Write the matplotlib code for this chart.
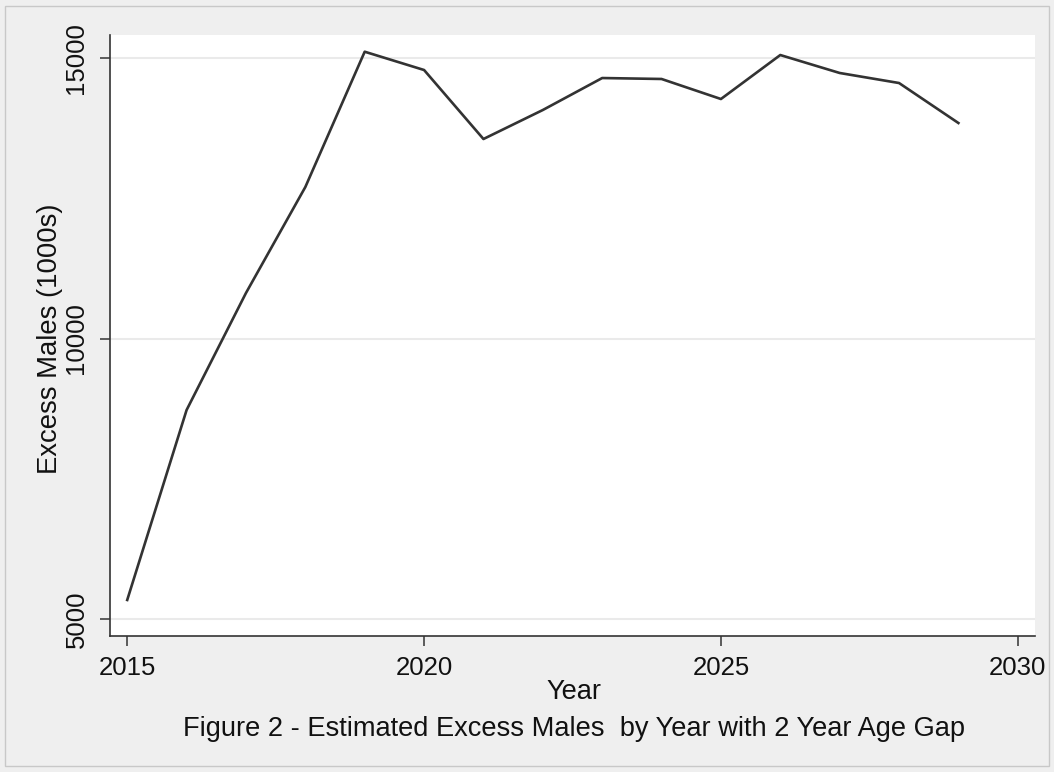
import matplotlib.pyplot as plt
from matplotlib.patches import Rectangle

# data
years = [2015, 2016, 2017, 2018, 2019, 2020, 2021, 2022, 2023, 2024, 2025, 2026, 2027, 2028, 2029]
excess_males = [5339, 8725, 10811, 12700, 15112, 14786, 13556, 14073, 14643, 14626, 14269, 15053, 14733, 14554, 13841]
x_ticks = [2015, 2020, 2025, 2030]
y_ticks = [5000, 10000, 15000]

plt.rcParams['font.family'] = ['Liberation Sans', 'DejaVu Sans']

fig = plt.figure(figsize=(10.54, 7.72), dpi=100)
fig.patch.set_facecolor('#efefef')
fig.patches.append(Rectangle((5 / 1054, 6 / 772), 1044 / 1054, 760 / 772,
                             transform=fig.transFigure, fill=False,
                             edgecolor='#c8c8c8', linewidth=1))

ax = fig.add_axes([110 / 1054, 1 - 636 / 772, 925 / 1054, 601 / 772])
ax.set_facecolor('white')

# grid lines
for v in y_ticks:
    ax.axhline(v, color='#eaeaea', linewidth=1.5, zorder=1)

ax.plot(years, excess_males, color='#333333', linewidth=1.9, zorder=3)

ax.set_xlim(2014.71, 2030.29)
ax.set_ylim(4697, 15410)
ax.set_xticks(x_ticks)
ax.set_yticks(y_ticks)
ax.set_yticklabels([str(v) for v in y_ticks], rotation=90, va='center')

for s in ['top', 'right']:
    ax.spines[s].set_visible(False)
for s in ['left', 'bottom']:
    ax.spines[s].set_color('#333333')
    ax.spines[s].set_linewidth(1.2)

ax.tick_params(axis='both', direction='out', length=7.5, width=1.1,
               color='#333333', labelsize=18.5, labelcolor='#111111')
ax.tick_params(axis='x', pad=7)
ax.tick_params(axis='y', pad=8)

fig.text(574 / 1054, 1 - 692 / 772, 'Year', ha='center', va='center', fontsize=19.6, color='#111111')
fig.text(50 / 1054, 1 - 339 / 772, 'Excess Males (1000s)', ha='center', va='center',
         rotation=90, fontsize=19.8, color='#111111')
fig.text(574 / 1054, 1 - 729 / 772, 'Figure 2 - Estimated Excess Males  by Year with 2 Year Age Gap',
         ha='center', va='center', fontsize=19.6, color='#111111')

plt.savefig('out.png', dpi=100, facecolor=fig.get_facecolor())
